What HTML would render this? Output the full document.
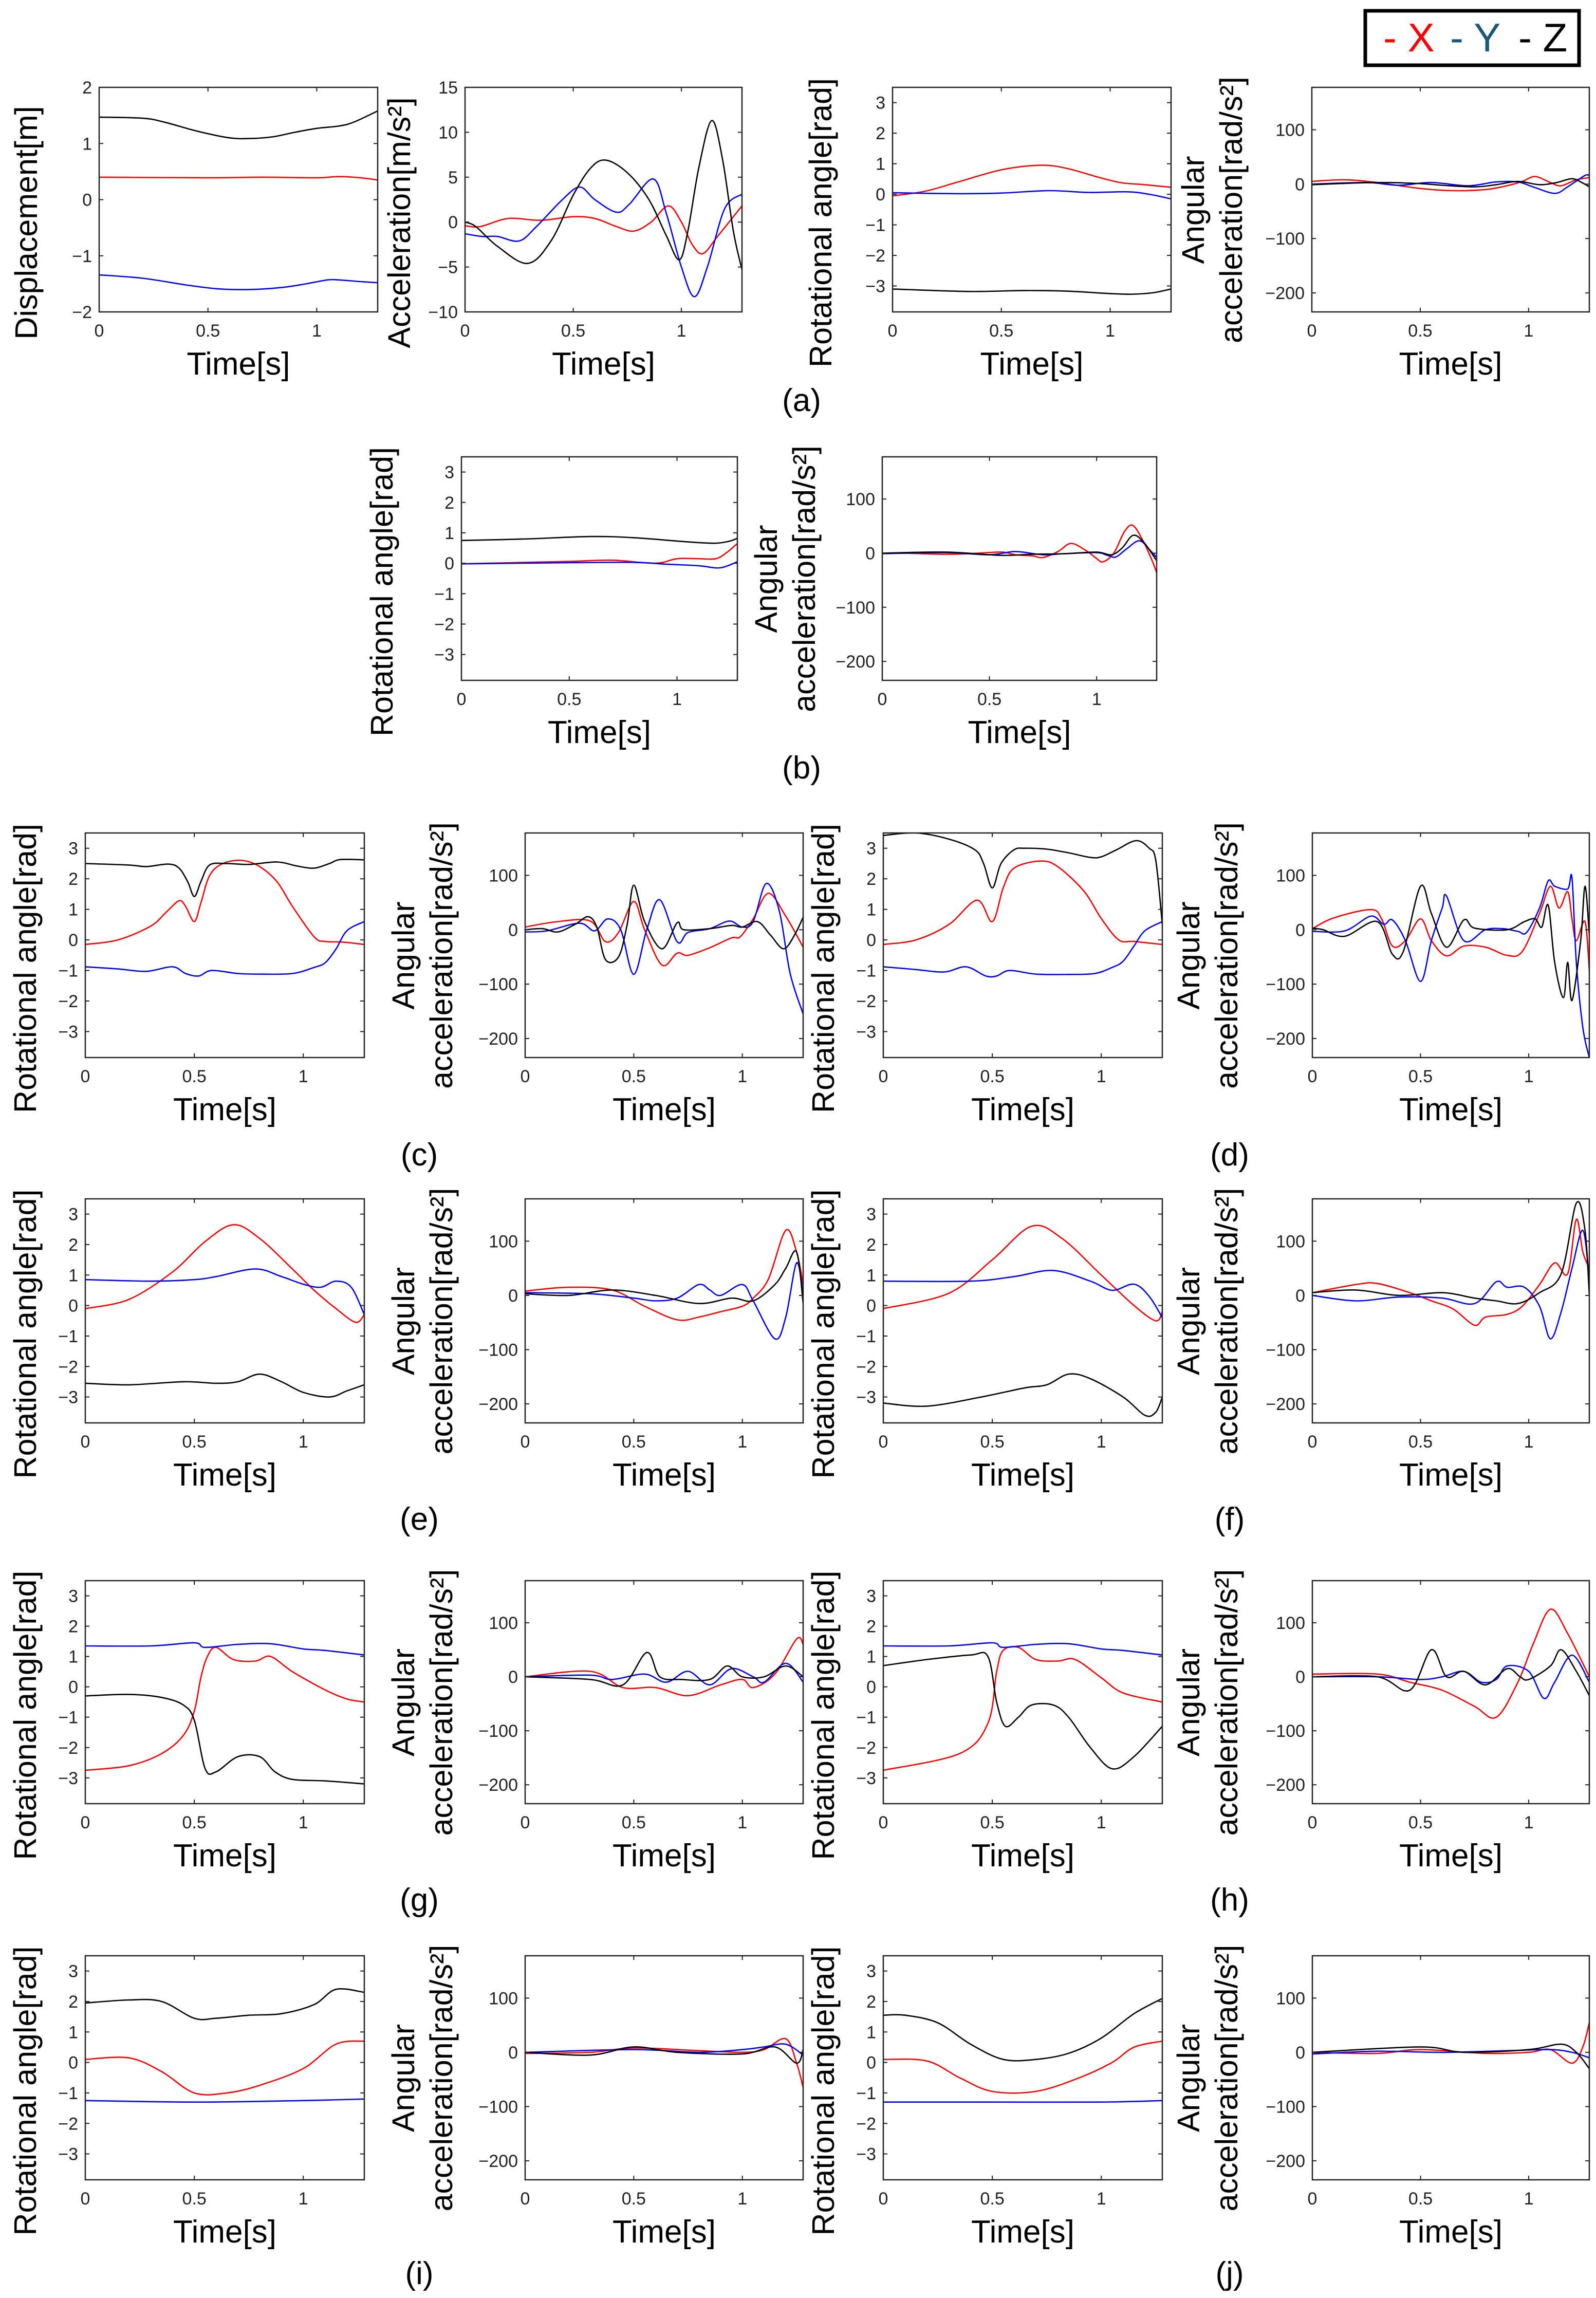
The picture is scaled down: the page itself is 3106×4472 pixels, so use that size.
<!DOCTYPE html>
<html><head><meta charset="utf-8"><style>
html,body{margin:0;padding:0;background:#fff;}
svg{display:block;}
text{font-family:"Liberation Sans",sans-serif;}
.tk{font-family:"Liberation Sans Narrow","Liberation Sans",sans-serif;font-size:34px;fill:#222;}
.xl{font-family:"Liberation Sans Narrow","Liberation Sans",sans-serif;font-size:62px;fill:#000;}
.yl{font-size:61px;fill:#000;}
.pl{font-size:62px;fill:#000;}
.lg{font-family:"Liberation Sans Narrow","Liberation Sans",sans-serif;font-size:78px;}
</style></head><body>
<svg id="fig" width="3106" height="4472" viewBox="0 0 3106 4472" xmlns="http://www.w3.org/2000/svg">
<g>
<rect x="2657" y="21" width="416" height="106" fill="#fff" stroke="#000" stroke-width="7"/>
<text x="2692" y="100" class="lg" fill="#ff0000">- X</text>
<text x="2822" y="100" class="lg" fill="#1a5a78">- Y</text>
<text x="2955" y="100" class="lg" fill="#000">- Z</text>
</g>
</svg>
<script>
// ---- data (t in seconds, value) ----
const a1_x=[[0,0.4],[0.5,0.39],[0.75,0.4],[1.0,0.39],[1.1,0.41],[1.2,0.39],[1.28,0.35]];
const a1_y=[[0,-1.34],[0.2,-1.4],[0.4,-1.52],[0.55,-1.59],[0.7,-1.6],[0.85,-1.56],[0.95,-1.5],[1.05,-1.43],[1.1,-1.43],[1.2,-1.46],[1.28,-1.48]];
const a1_z=[[0,1.47],[0.2,1.45],[0.3,1.38],[0.45,1.22],[0.6,1.1],[0.7,1.09],[0.8,1.12],[0.9,1.2],[1.0,1.27],[1.1,1.31],[1.17,1.38],[1.28,1.58]];
const a2_x=[[0,-0.4],[0.07,-0.5],[0.2,0.4],[0.35,0.2],[0.5,0.6],[0.6,0.4],[0.7,-0.5],[0.78,-1],[0.86,0],[0.94,1.8],[1.0,0],[1.05,-2.5],[1.1,-3.5],[1.17,-1.5],[1.28,1.8]];
const a2_y=[[0,-1.3],[0.08,-1.6],[0.15,-1.6],[0.25,-2.1],[0.33,-0.5],[0.45,2.5],[0.53,3.9],[0.6,2.5],[0.7,1.1],[0.76,2],[0.87,4.8],[0.93,1],[1.0,-5],[1.06,-8.3],[1.12,-5],[1.2,1.5],[1.28,3.1]];
const a2_z=[[0,0],[0.05,-0.5],[0.15,-2.7],[0.29,-4.6],[0.4,-2],[0.5,3],[0.58,6],[0.65,6.9],[0.75,5.5],[0.85,2.5],[0.93,-1.5],[0.99,-4.2],[1.03,-1],[1.08,6],[1.14,11.3],[1.19,7],[1.24,-1],[1.28,-5.3]];
const a3_x=[[0,-0.05],[0.15,0.1],[0.3,0.4],[0.5,0.8],[0.68,0.95],[0.8,0.85],[0.95,0.55],[1.05,0.38],[1.15,0.32],[1.28,0.23]];
const a3_y=[[0,0.05],[0.3,0.02],[0.5,0.04],[0.72,0.12],[0.9,0.06],[1.08,0.08],[1.18,0.0],[1.28,-0.15]];
const a3_z=[[0,-3.1],[0.35,-3.18],[0.6,-3.15],[0.8,-3.17],[1.0,-3.25],[1.1,-3.27],[1.2,-3.22],[1.28,-3.1]];
const a4_x=[[0,5],[0.15,8],[0.3,3],[0.5,-8],[0.65,-12],[0.8,-10],[0.9,-3],[0.97,5],[1.03,14],[1.1,3],[1.15,-3],[1.22,8],[1.28,12]];
const a4_y=[[0,0],[0.25,3],[0.4,-2],[0.55,3],[0.72,-3],[0.85,4],[0.95,4],[1.02,-5],[1.12,-17],[1.18,-5],[1.26,16],[1.28,15]];
const a4_z=[[0,-1],[0.3,3],[0.5,1],[0.6,-2],[0.75,-5],[0.85,-1],[0.95,5],[1.05,-1],[1.13,3],[1.2,10],[1.25,2],[1.28,-5]];
const b1_x=[[0,-0.02],[0.3,0.03],[0.5,0.06],[0.7,0.1],[0.9,0.0],[1.0,0.15],[1.1,0.15],[1.18,0.15],[1.23,0.35],[1.28,0.65]];
const b1_y=[[0,-0.02],[0.5,0.02],[0.8,0.03],[0.95,-0.03],[1.1,-0.08],[1.2,-0.15],[1.28,0.05]];
const b1_z=[[0,0.75],[0.3,0.8],[0.6,0.88],[0.8,0.84],[1.0,0.73],[1.1,0.68],[1.18,0.66],[1.24,0.72],[1.28,0.82]];
const b2_x=[[0,0],[0.1,0],[0.3,-2],[0.45,0],[0.56,2],[0.62,-3],[0.7,-5],[0.75,-8],[0.82,3],[0.88,18],[0.95,5],[1.0,-10],[1.03,-16],[1.08,0],[1.13,40],[1.17,51],[1.22,20],[1.26,-15],[1.28,-36]];
const b2_y=[[0,-1],[0.3,1],[0.5,-3],[0.62,3],[0.75,-3],[0.85,-1],[1.0,1],[1.05,-4],[1.09,-7],[1.14,8],[1.2,23],[1.25,5],[1.28,-8]];
const b2_z=[[0,0],[0.3,2],[0.55,-4],[0.7,-2],[0.85,-1],[1.0,2],[1.07,-3],[1.12,10],[1.17,33],[1.22,20],[1.28,-14]];
const c1_x=[[0,-0.15],[0.15,0],[0.3,0.45],[0.37,0.9],[0.43,1.28],[0.46,1.1],[0.5,0.6],[0.53,1.2],[0.57,2.1],[0.63,2.5],[0.72,2.6],[0.8,2.4],[0.88,1.9],[0.95,1.1],[1.05,0.1],[1.1,-0.05],[1.18,-0.07],[1.28,-0.15]];
const c1_y=[[0,-0.88],[0.15,-0.95],[0.28,-1.03],[0.4,-0.88],[0.46,-1.1],[0.52,-1.18],[0.58,-1.0],[0.7,-1.1],[0.8,-1.12],[0.95,-1.1],[1.05,-0.9],[1.1,-0.75],[1.15,-0.3],[1.2,0.3],[1.28,0.6]];
const c1_z=[[0,2.5],[0.2,2.45],[0.28,2.4],[0.38,2.48],[0.43,2.35],[0.47,1.9],[0.5,1.42],[0.53,1.9],[0.57,2.45],[0.65,2.5],[0.75,2.47],[0.88,2.55],[0.97,2.42],[1.05,2.35],[1.12,2.5],[1.17,2.63],[1.28,2.62]];
const c2_x=[[0,5],[0.15,15],[0.3,16],[0.37,-22],[0.43,-5],[0.5,52],[0.55,0],[0.63,-65],[0.7,-43],[0.75,-47],[0.85,-33],[0.95,-15],[0.99,-13],[1.05,20],[1.12,67],[1.2,25],[1.28,-32]];
const c2_y=[[0,-4],[0.1,-2],[0.25,12],[0.32,-2],[0.38,20],[0.44,0],[0.5,-82],[0.56,0],[0.62,55],[0.7,-22],[0.75,-5],[0.85,2],[0.94,16],[1.0,5],[1.05,15],[1.11,85],[1.17,35],[1.22,-80],[1.28,-155]];
const c2_z=[[0,0],[0.08,2],[0.15,-4],[0.23,10],[0.29,24],[0.33,5],[0.37,-55],[0.43,-50],[0.47,10],[0.5,82],[0.55,15],[0.63,-35],[0.7,13],[0.73,0],[0.85,2],[0.95,8],[1.0,5],[1.07,15],[1.13,-10],[1.19,-35],[1.24,-10],[1.28,23]];
const d1_x=[[0,-0.15],[0.15,0],[0.3,0.5],[0.43,1.3],[0.5,0.6],[0.55,1.7],[0.6,2.35],[0.72,2.58],[0.8,2.4],[0.92,1.6],[1.0,0.7],[1.08,0.0],[1.15,-0.05],[1.28,-0.15]];
const d1_y=[[0,-0.88],[0.15,-0.97],[0.28,-1.05],[0.38,-0.88],[0.47,-1.18],[0.52,-1.18],[0.58,-1.0],[0.7,-1.12],[0.85,-1.13],[0.97,-1.1],[1.05,-0.9],[1.1,-0.7],[1.15,-0.2],[1.2,0.3],[1.28,0.6]];
const d1_z=[[0,3.42],[0.15,3.5],[0.3,3.3],[0.42,2.95],[0.46,2.5],[0.5,1.7],[0.54,2.5],[0.6,2.95],[0.65,3.0],[0.75,2.97],[0.85,2.85],[0.95,2.7],[1.0,2.72],[1.07,2.95],[1.16,3.25],[1.22,3.0],[1.25,2.6],[1.28,0.5]];
const d2_x=[[0,2],[0.1,22],[0.27,37],[0.32,20],[0.37,-30],[0.43,-20],[0.5,20],[0.55,-20],[0.62,-48],[0.7,-30],[0.8,-32],[0.9,-47],[0.97,-40],[1.05,30],[1.1,80],[1.14,40],[1.18,70],[1.2,20],[1.22,-20],[1.26,15],[1.28,-75]];
const d2_y=[[0,-3],[0.15,-2],[0.27,25],[0.33,10],[0.37,18],[0.43,-20],[0.5,-95],[0.55,-20],[0.6,40],[0.62,62],[0.7,-20],[0.8,0],[0.88,2],[0.95,-3],[0.99,-5],[1.05,40],[1.09,90],[1.12,80],[1.18,75],[1.2,95],[1.22,-60],[1.25,-180],[1.28,-235]];
const d2_z=[[0,3],[0.05,0],[0.15,-12],[0.3,15],[0.37,-45],[0.42,-40],[0.5,80],[0.55,30],[0.62,-32],[0.7,18],[0.75,3],[0.9,0],[0.98,15],[1.03,20],[1.06,5],[1.09,45],[1.12,-60],[1.16,-125],[1.18,-60],[1.2,-130],[1.24,-20],[1.26,80],[1.28,-10]];
const e1_x=[[0,-0.1],[0.2,0.2],[0.4,1.1],[0.55,2.1],[0.68,2.65],[0.8,2.2],[0.95,1.2],[1.05,0.5],[1.15,-0.1],[1.24,-0.55],[1.28,-0.3]];
const e1_y=[[0,0.85],[0.3,0.8],[0.5,0.85],[0.6,0.95],[0.78,1.2],[0.9,0.95],[1.0,0.7],[1.08,0.6],[1.15,0.8],[1.22,0.6],[1.28,-0.3]];
const e1_z=[[0,-2.55],[0.2,-2.6],[0.45,-2.5],[0.6,-2.55],[0.7,-2.5],[0.8,-2.25],[0.9,-2.5],[1.0,-2.85],[1.12,-3.0],[1.2,-2.8],[1.28,-2.6]];
const e2_x=[[0,8],[0.2,15],[0.4,10],[0.55,-20],[0.7,-45],[0.8,-40],[0.9,-30],[1.0,-20],[1.05,-5],[1.12,30],[1.2,120],[1.25,80],[1.28,20]];
const e2_y=[[0,5],[0.3,3],[0.5,-5],[0.6,-10],[0.7,-5],[0.8,20],[0.85,10],[0.9,0],[1.0,20],[1.05,-10],[1.15,-80],[1.2,-40],[1.25,60],[1.28,0]];
const e2_z=[[0,3],[0.2,0],[0.4,10],[0.6,0],[0.8,-15],[0.95,-5],[1.05,-10],[1.15,20],[1.2,50],[1.25,80],[1.28,-15]];
const f1_x=[[0,-0.1],[0.3,0.4],[0.5,1.5],[0.68,2.6],[0.82,2.2],[1.0,1.0],[1.15,0.0],[1.25,-0.5],[1.28,-0.2]];
const f1_y=[[0,0.8],[0.4,0.8],[0.6,0.95],[0.78,1.15],[0.95,0.8],[1.05,0.5],[1.15,0.7],[1.22,0.3],[1.28,-0.4]];
const f1_z=[[0,-3.2],[0.2,-3.3],[0.45,-3.0],[0.65,-2.7],[0.75,-2.6],[0.85,-2.25],[0.95,-2.4],[1.1,-3.0],[1.2,-3.6],[1.25,-3.5],[1.28,-3.0]];
const f2_x=[[0,5],[0.2,20],[0.3,22],[0.45,5],[0.55,-10],[0.65,-25],[0.75,-55],[0.8,-40],[0.9,-35],[0.97,-20],[1.05,20],[1.12,60],[1.18,40],[1.22,140],[1.25,80],[1.28,50]];
const f2_y=[[0,0],[0.2,-10],[0.4,-3],[0.6,-5],[0.75,-15],[0.85,25],[0.9,15],[0.98,15],[1.05,-20],[1.1,-80],[1.15,-30],[1.2,50],[1.25,120],[1.28,30]];
const f2_z=[[0,5],[0.2,10],[0.4,0],[0.6,5],[0.75,-5],[0.85,-10],[0.95,-15],[1.05,5],[1.15,40],[1.22,170],[1.26,120],[1.28,0]];
const g1_x=[[0,-2.75],[0.2,-2.6],[0.35,-2.2],[0.45,-1.6],[0.5,-0.8],[0.53,0.3],[0.56,1.0],[0.6,1.3],[0.68,0.9],[0.78,0.85],[0.85,1.0],[0.95,0.5],[1.1,-0.1],[1.2,-0.4],[1.28,-0.5]];
const g1_y=[[0,1.35],[0.3,1.35],[0.5,1.45],[0.55,1.3],[0.7,1.4],[0.85,1.42],[1.0,1.25],[1.1,1.2],[1.28,1.05]];
const g1_z=[[0,-0.3],[0.2,-0.25],[0.35,-0.35],[0.45,-0.6],[0.5,-1.1],[0.55,-2.7],[0.6,-2.8],[0.7,-2.3],[0.8,-2.3],[0.87,-2.8],[0.95,-3.05],[1.1,-3.1],[1.28,-3.2]];
const g2_x=[[0,0],[0.3,10],[0.45,-20],[0.6,-20],[0.75,-35],[0.9,-15],[1.0,-5],[1.05,-20],[1.15,5],[1.25,70],[1.28,60]];
const g2_y=[[0,0],[0.3,3],[0.4,-5],[0.55,5],[0.65,-10],[0.75,10],[0.85,-15],[0.95,15],[1.05,0],[1.1,-10],[1.2,25],[1.28,-10]];
const g2_z=[[0,0],[0.3,-5],[0.45,-15],[0.56,45],[0.62,0],[0.72,-5],[0.85,-5],[0.93,20],[1.0,0],[1.1,0],[1.2,20],[1.28,0]];
const h1_x=[[0,-2.75],[0.35,-2.2],[0.48,-1.2],[0.52,0.5],[0.55,1.2],[0.62,1.3],[0.7,0.9],[0.8,0.85],[0.88,0.9],[1.0,0.3],[1.1,-0.2],[1.28,-0.5]];
const h1_y=[[0,1.35],[0.3,1.35],[0.5,1.45],[0.55,1.3],[0.7,1.4],[0.85,1.42],[1.0,1.25],[1.1,1.2],[1.28,1.05]];
const h1_z=[[0,0.7],[0.2,0.9],[0.4,1.05],[0.48,1.0],[0.52,-0.5],[0.56,-1.3],[0.62,-1.0],[0.68,-0.6],[0.78,-0.6],[0.85,-1.0],[0.95,-2.0],[1.05,-2.7],[1.15,-2.3],[1.28,-1.3]];
const h2_x=[[0,5],[0.3,5],[0.45,-10],[0.6,-25],[0.75,-55],[0.85,-75],[0.95,-10],[1.02,60],[1.1,125],[1.18,80],[1.28,0]];
const h2_y=[[0,0],[0.3,0],[0.5,-5],[0.6,0],[0.7,10],[0.78,-10],[0.85,-5],[0.9,20],[1.0,10],[1.07,-40],[1.12,-10],[1.2,40],[1.28,-10]];
const h2_z=[[0,0],[0.3,0],[0.45,-25],[0.55,50],[0.62,0],[0.7,10],[0.8,-15],[0.9,15],[0.96,0],[1.0,-5],[1.1,20],[1.15,50],[1.22,10],[1.28,-35]];
const i1_x=[[0,0.1],[0.2,0.15],[0.35,-0.3],[0.5,-1.0],[0.65,-1.0],[0.8,-0.75],[1.0,-0.2],[1.15,0.6],[1.28,0.7]];
const i1_y=[[0,-1.25],[0.5,-1.3],[1.0,-1.25],[1.28,-1.2]];
const i1_z=[[0,1.95],[0.2,2.05],[0.35,2.0],[0.5,1.45],[0.6,1.45],[0.75,1.55],[0.9,1.6],[1.05,1.9],[1.15,2.4],[1.28,2.3]];
const i2_x=[[0,-2],[0.3,0],[0.5,8],[0.8,3],[1.0,0],[1.1,5],[1.2,25],[1.25,-20],[1.28,-65]];
const i2_y=[[0,0],[0.5,5],[0.8,0],[1.0,5],[1.1,10],[1.2,15],[1.28,-5]];
const i2_z=[[0,0],[0.3,-5],[0.5,10],[0.7,0],[1.0,-3],[1.15,10],[1.25,-20],[1.28,5]];
const j1_x=[[0,0.1],[0.2,0.05],[0.35,-0.5],[0.5,-0.95],[0.7,-0.95],[0.9,-0.5],[1.05,0],[1.15,0.5],[1.28,0.7]];
const j1_y=[[0,-1.3],[0.5,-1.3],[1.0,-1.3],[1.28,-1.25]];
const j1_z=[[0,1.55],[0.1,1.55],[0.25,1.3],[0.4,0.6],[0.55,0.1],[0.7,0.1],[0.85,0.3],[1.0,0.8],[1.15,1.6],[1.28,2.1]];
const j2_x=[[0,0],[0.3,-2],[0.5,5],[0.8,-2],[1.0,0],[1.1,5],[1.2,-20],[1.25,10],[1.28,55]];
const j2_y=[[0,-3],[0.3,2],[0.6,0],[0.9,3],[1.1,5],[1.2,0],[1.28,-10]];
const j2_z=[[0,0],[0.5,10],[0.7,0],[1.0,5],[1.15,15],[1.22,0],[1.28,-30]];

const xTicks=[0,0.5,1];
const xTickLabels=["0","0.5","1"];
const dispTicks=[-2,-1,0,1,2];
const accTicks=[-10,-5,0,5,10,15];
const rotTicks=[-3,-2,-1,0,1,2,3];
const angTicks=[-200,-100,0,100];

const NS="http://www.w3.org/2000/svg";
const svg=document.getElementById('fig');
function mk(tag,attrs,parent){const e=document.createElementNS(NS,tag);for(const k in attrs)e.setAttribute(k,attrs[k]);(parent||svg).appendChild(e);return e;}
function fmt(v){return (v<0?"\u2212":"")+Math.abs(v);}
function pathD(pts,sx,sy){
  const P=pts.map(p=>[sx(p[0]),sy(p[1])]);
  let d="M"+P[0][0].toFixed(1)+","+P[0][1].toFixed(1);
  for(let i=0;i<P.length-1;i++){
    const p0=P[Math.max(0,i-1)],p1=P[i],p2=P[i+1],p3=P[Math.min(P.length-1,i+2)];
    const c1=[p1[0]+(p2[0]-p0[0])/6,p1[1]+(p2[1]-p0[1])/6];
    const c2=[p2[0]-(p3[0]-p1[0])/6,p2[1]-(p3[1]-p1[1])/6];
    d+=" C"+c1[0].toFixed(1)+","+c1[1].toFixed(1)+" "+c2[0].toFixed(1)+","+c2[1].toFixed(1)+" "+p2[0].toFixed(1)+","+p2[1].toFixed(1);
  }
  return d;
}
const TYPES={
  disp:{dom:[-2,2],ticks:dispTicks,l1:null,l2:"Displacement[m]"},
  acc:{dom:[-10,15],ticks:accTicks,l1:null,l2:"Acceleration[m/s²]"},
  rot:{dom:[-3.85,3.5],ticks:rotTicks,l1:null,l2:"Rotational angle[rad]"},
  ang:{dom:[-235,178],ticks:angTicks,l1:"Angular",l2:"acceleration[rad/s²]"}
};
function panel(id,type,x0,x1,y0,y1,lx,series){
  const T=TYPES[type];
  const g=mk('g',{});
  
  
  const sx=t=>x0+(t/1.28)*(x1-x0);
  const sy=v=>y1-(v-T.dom[0])/(T.dom[1]-T.dom[0])*(y1-y0);
  const clip=mk('clipPath',{id:'c'+id},g);
  mk('rect',{x:x0,y:y0,width:x1-x0,height:y1-y0},clip);
  const cols=["#ff0000","#0000ff","#000000"];
  const nm=["x","y","z"];
  series.forEach((s,i)=>{
    const p=mk('path',{d:pathD(s,sx,sy),fill:'none',stroke:cols[i],'stroke-width':2.6,'clip-path':'url(#c'+id+')'},g);
    
    
  });
  const box=mk('rect',{x:x0,y:y0,width:x1-x0,height:y1-y0,fill:'none',stroke:'#222','stroke-width':2.5},g);
  
  
  xTicks.forEach((t,i)=>{
    const X=sx(t);
    mk('line',{x1:X,x2:X,y1:y1,y2:y1-8,stroke:'#222','stroke-width':2},g);
    mk('line',{x1:X,x2:X,y1:y0,y2:y0+8,stroke:'#222','stroke-width':2},g);
    const tx=mk('text',{x:X,y:y1+48,'text-anchor':'middle',class:'tk'},g);
    tx.textContent=xTickLabels[i];
    
    
  });
  T.ticks.forEach(v=>{
    const Y=sy(v);
    mk('line',{x1:x0,x2:x0+8,y1:Y,y2:Y,stroke:'#222','stroke-width':2},g);
    mk('line',{x1:x1,x2:x1-8,y1:Y,y2:Y,stroke:'#222','stroke-width':2},g);
    const tx=mk('text',{x:x0-14,y:Y+12,'text-anchor':'end',class:'tk'},g);
    tx.textContent=fmt(v);
    
    
  });
  const xl=mk('text',{x:(x0+x1)/2,y:y1+122,'text-anchor':'middle',class:'xl'},g);
  xl.textContent="Time[s]";
  
  
  const cy=(y0+y1)/2+20;
  if(T.l1){
    const a=mk('text',{x:lx-36,y:cy,'text-anchor':'middle',class:'yl',transform:'rotate(-90 '+(lx-36)+' '+cy+')'},g);
    a.textContent=T.l1;
    
    
    const b=mk('text',{x:lx+38,y:cy,'text-anchor':'middle',class:'yl',transform:'rotate(-90 '+(lx+38)+' '+cy+')'},g);
    b.textContent=T.l2;
    
    
  } else {
    const b=mk('text',{x:lx+20,y:cy+25,'text-anchor':'middle',class:'yl',transform:'rotate(-90 '+(lx+20)+' '+(cy+25)+')'},g);
    b.textContent=T.l2;
    
    
  }
}
// layout
const C1=[166,709],C2=[1022,1563],C3=[1719,2262],C4=[2554,3093];
panel('a1','disp',193,735,170,607,52,[a1_x,a1_y,a1_z]);
panel('a2','acc',905,1444,170,607,778,[a2_x,a2_y,a2_z]);
panel('a3','rot',1737,2279,170,607,1598,[a3_x,a3_y,a3_z]);
panel('a4','ang',2553,3093,170,607,2379,[a4_x,a4_y,a4_z]);
panel('b1','rot',898,1435,889,1324,744,[b1_x,b1_y,b1_z]);
panel('b2','ang',1717,2251,889,1324,1548,[b2_x,b2_y,b2_z]);
const rows=[[1621,2058,['c','d']],[2333,2769,['e','f']],[3076,3510,['g','h']],[3806,4242,['i','j']]];
const D={c1:[c1_x,c1_y,c1_z],c2:[c2_x,c2_y,c2_z],d1:[d1_x,d1_y,d1_z],d2:[d2_x,d2_y,d2_z],e1:[e1_x,e1_y,e1_z],e2:[e2_x,e2_y,e2_z],f1:[f1_x,f1_y,f1_z],f2:[f2_x,f2_y,f2_z],g1:[g1_x,g1_y,g1_z],g2:[g2_x,g2_y,g2_z],h1:[h1_x,h1_y,h1_z],h2:[h2_x,h2_y,h2_z],i1:[i1_x,i1_y,i1_z],i2:[i2_x,i2_y,i2_z],j1:[j1_x,j1_y,j1_z],j2:[j2_x,j2_y,j2_z]};
rows.forEach(r=>{
  const [y0,y1,[L,R]]=r;
  panel(L+'1','rot',C1[0],C1[1],y0,y1,50,D[L+'1']);
  panel(L+'2','ang',C2[0],C2[1],y0,y1,842,D[L+'2']);
  panel(R+'1','rot',C3[0],C3[1],y0,y1,1603,D[R+'1']);
  panel(R+'2','ang',C4[0],C4[1],y0,y1,2370,D[R+'2']);
});
// panel letters
const letters=[["(a)",1560,800],["(b)",1560,1515],["(c)",816,2268],["(d)",2393,2268],["(e)",816,2977],["(f)",2393,2977],["(g)",816,3718],["(h)",2393,3718],["(i)",816,4445],["(j)",2393,4445]];
letters.forEach(l=>{
  const t=mk('text',{x:l[1],y:l[2],'text-anchor':'middle',class:'pl'});
  t.textContent=l[0];
  
  
});
</script>
</body></html>
